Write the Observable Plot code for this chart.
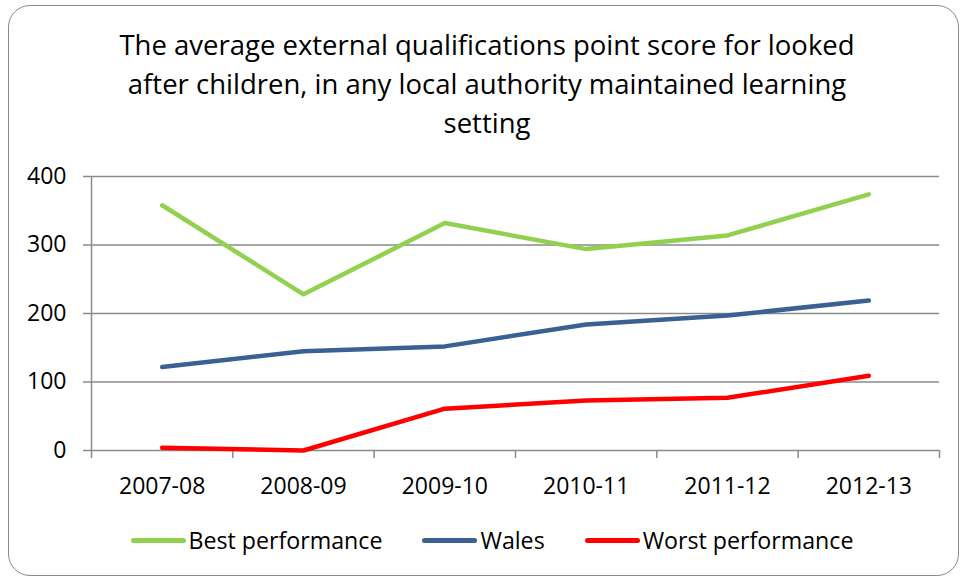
<!DOCTYPE html>
<html><head><meta charset="utf-8">
<script src="https://cdn.jsdelivr.net/npm/d3@7"></script>
<script src="https://cdn.jsdelivr.net/npm/@observablehq/plot@0.6"></script>
<style>
body{margin:0;background:#fff;}
#wrap{position:relative;width:960px;height:578px;overflow:hidden;font-family:"Open Sans",sans-serif;color:#000;}
#frame{position:absolute;left:8px;top:5px;width:951px;height:571px;box-sizing:border-box;border:1.5px solid #8a8a8a;border-radius:22px;}
#title{position:absolute;left:8px;top:25px;width:958px;text-align:center;font-size:27.5px;line-height:39px;white-space:nowrap;}
#chart{position:absolute;left:0;top:150px;}
#legend{position:absolute;left:0;top:522px;width:960px;height:36px;box-sizing:border-box;padding-left:24px;display:flex;justify-content:center;align-items:center;font-size:23.2px;}
.item{display:flex;align-items:center;margin:0 20px;}
.sw{width:55px;height:5px;border-radius:3px;margin-right:3px;}
</style></head>
<body>
<div id="wrap">
  <div id="frame"></div>
  <div id="title"></div>
  <div id="chart"></div>
  <div id="legend"></div>
</div>
<script>
const titleLines = ["The average external qualifications point score for looked", "after children, in any local authority maintained learning", "setting"];
const categories = ["2007-08", "2008-09", "2009-10", "2010-11", "2011-12", "2012-13"];
const seriesNames = ["Best performance", "Wales", "Worst performance"];
const seriesColors = ["#92D050", "#3A6191", "#FF0000"];
const best = [358, 228, 332, 294, 314, 374];
const wales = [122, 145, 152, 184, 197, 219];
const worst = [4, 0, 61, 73, 77, 109];
const yTicks = [0, 100, 200, 300, 400];

const seriesValues = [best, wales, worst];
const rows = seriesNames.flatMap((s, k) => seriesValues[k].map((v, i) => ({series: s, i, value: v})));
const centers = d3.range(categories.length);
const boundaries = d3.range(categories.length + 1).map(i => i - 0.5);
const gray = "#8a8a8a";

document.getElementById("title").innerHTML = titleLines.map(l => `<div>${l}</div>`).join("");

const chart = Plot.plot({
  width: 960,
  height: 360,
  marginLeft: 91,
  marginRight: 21,
  marginTop: 26,
  marginBottom: 60,
  style: {fontFamily: "'Open Sans', sans-serif", fontSize: "23px", color: "#000", background: "transparent", overflow: "visible"},
  x: {type: "linear", domain: [-0.5, categories.length - 0.5]},
  y: {domain: [0, 400]},
  color: {domain: seriesNames, range: seriesColors},
  marks: [
    Plot.gridY(yTicks, {stroke: gray, strokeOpacity: 1, strokeWidth: 1.5}),
    Plot.axisY(yTicks, {tickSize: 8, tickPadding: 17, stroke: gray, strokeWidth: 1.5, fill: "#000", label: null, tickFormat: d => String(d), fontSize: 23}),
    Plot.ruleX([-0.5], {stroke: gray, strokeWidth: 1.5}),
    Plot.axisX(boundaries, {tickSize: 8, stroke: gray, strokeWidth: 1.5, tickFormat: () => "", label: null}),
    Plot.axisX(centers, {tickSize: 0, tickPadding: 27, fill: "#000", tickFormat: i => categories[i], label: null, fontSize: 23}),
    Plot.line(rows, {x: "i", y: "value", z: "series", stroke: "series", strokeWidth: 4.5, strokeLinecap: "round", strokeLinejoin: "round"})
  ]
});
document.getElementById("chart").appendChild(chart);

document.getElementById("legend").innerHTML = seriesNames.map((s, k) =>
  `<div class="item"><div class="sw" style="background:${seriesColors[k]}"></div><span>${s}</span></div>`).join("");
</script>
</body></html>
